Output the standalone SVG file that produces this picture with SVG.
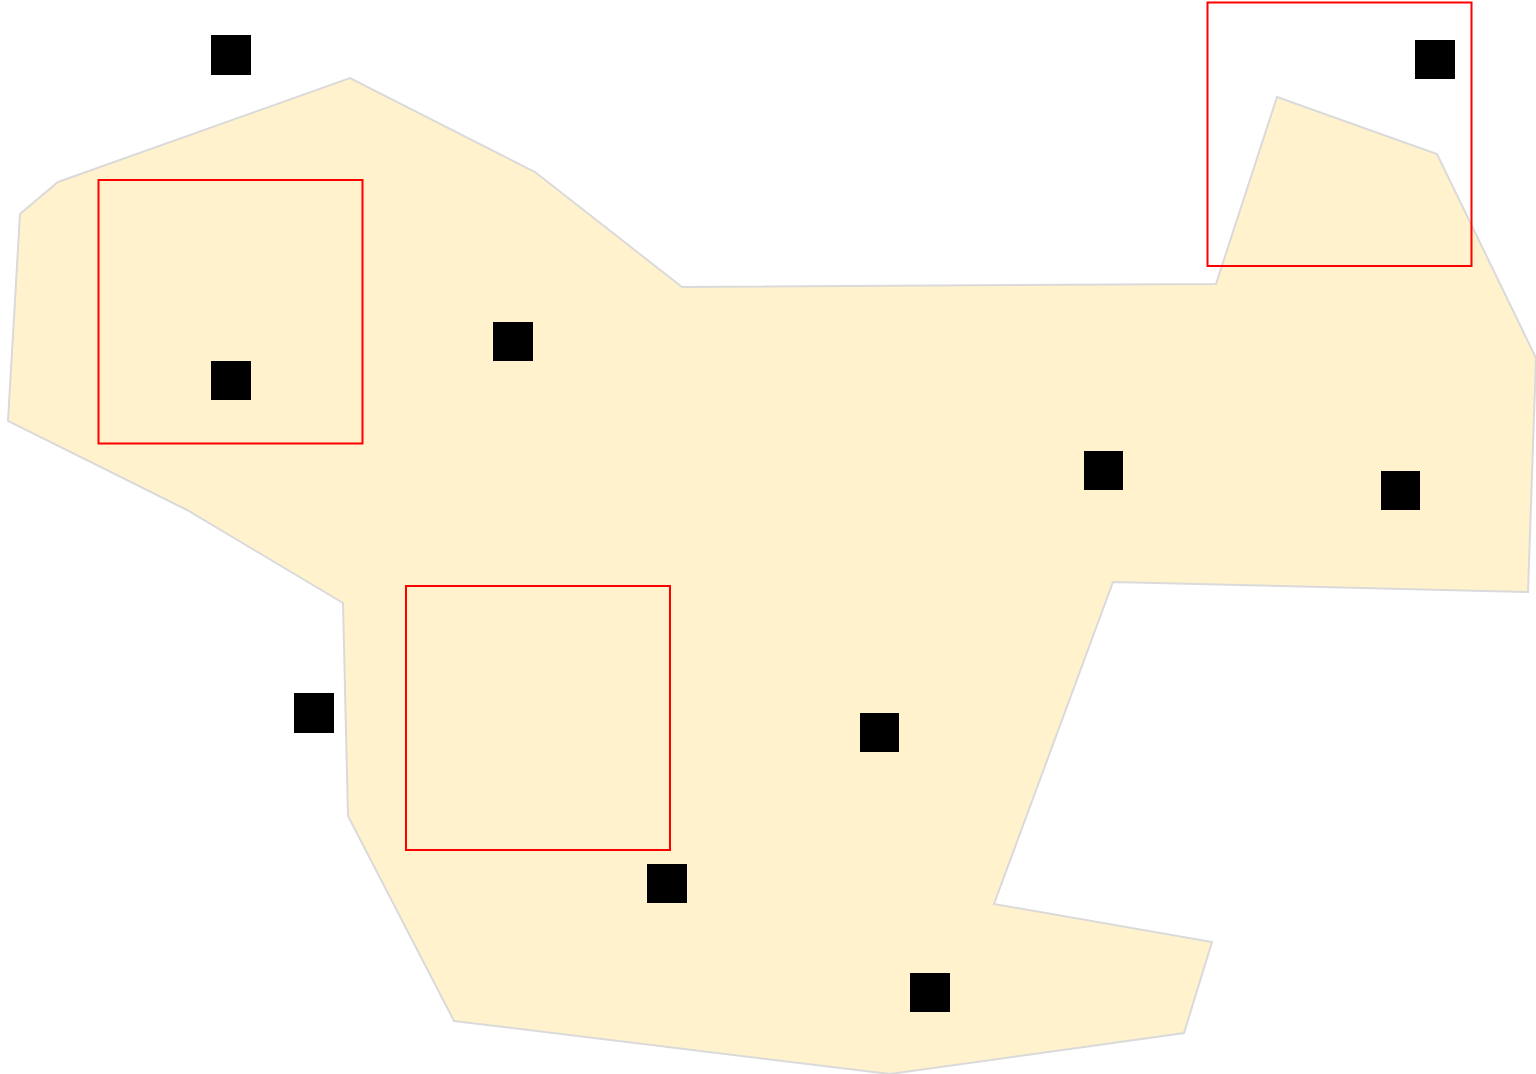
<svg xmlns="http://www.w3.org/2000/svg" width="1536" height="1074" viewBox="0 0 1536 1074">
<style>
.region{fill:#fff2cc;stroke:#dadada;stroke-width:2;stroke-linejoin:miter}
.frame{fill:none;stroke:#ff0000;stroke-width:2}
.node{fill:#000000}
</style>
<rect width="1536" height="1074" fill="#ffffff"/>
<g id="region">
<polygon class="region" points="1277,97 1437,154 1536,358 1528,592 1113,582 994,904 1212,942 1184,1033 890,1074 454,1021 348,816 343,603 187,510 8,421 20,214 58,182 350,78 535,172 682,287 1216,284"/>
</g>
<g id="frames">
<rect id="frame1" class="frame" x="98.5" y="180" width="264" height="263.5"/>
<rect id="frame2" class="frame" x="406" y="586" width="264" height="264"/>
<rect id="frame3" class="frame" x="1207.5" y="2.5" width="264" height="263.5"/>
</g>
<g id="connectors"></g>
<g id="n1"><rect class="node" x="211" y="35" width="40" height="40"/></g>
<g id="n2"><rect class="node" x="1415" y="40" width="40" height="39"/></g>
<g id="n3"><rect class="node" x="211" y="361" width="40" height="39"/></g>
<g id="n4"><rect class="node" x="493" y="322" width="40" height="39"/></g>
<g id="n5"><rect class="node" x="1084" y="451" width="39" height="39"/></g>
<g id="n6"><rect class="node" x="1381" y="471" width="39" height="39"/></g>
<g id="n7"><rect class="node" x="294" y="693" width="40" height="40"/></g>
<g id="n8"><rect class="node" x="860" y="713" width="39" height="39"/></g>
<g id="n9"><rect class="node" x="647" y="864" width="40" height="39"/></g>
<g id="n10"><rect class="node" x="910" y="973" width="40" height="39"/></g>
</svg>
